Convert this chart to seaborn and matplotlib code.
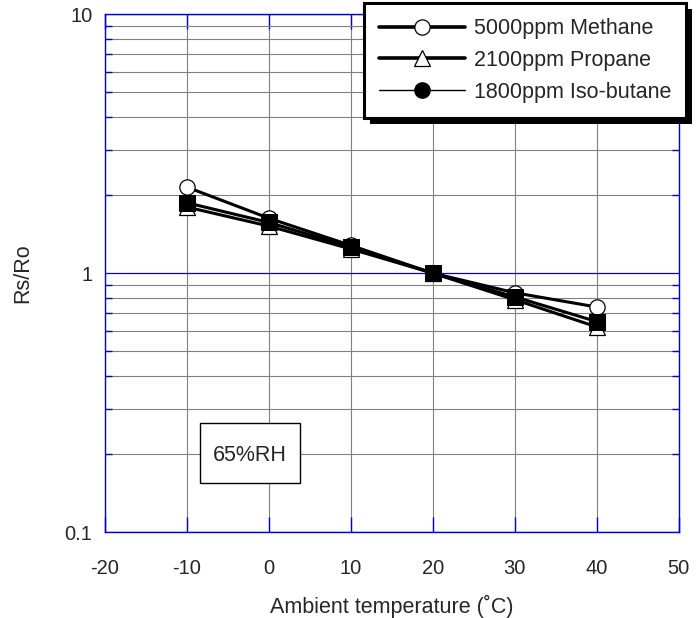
import numpy as np
import pandas as pd
import seaborn as sns
import matplotlib.pyplot as plt
from matplotlib.lines import Line2D
from matplotlib.patches import Rectangle
from matplotlib.ticker import FixedLocator, NullFormatter
from matplotlib.transforms import IdentityTransform

temps = [-10, 0, 10, 20, 30, 40]
methane = [2.15, 1.63, 1.28, 1.0, 0.84, 0.74]
propane = [1.80, 1.52, 1.24, 1.0, 0.79, 0.62]
isobutane = [1.87, 1.57, 1.26, 1.0, 0.81, 0.65]

labels = ["5000ppm Methane", "2100ppm Propane", "1800ppm Iso-butane"]
x_ticks = [-20, -10, 0, 10, 20, 30, 40, 50]
y_ticks = [0.1, 1, 10]
y_ticklabels = ["0.1", "1", "10"]

sns.set_style("white")
plt.rcParams['font.family'] = ['Liberation Sans', 'DejaVu Sans']

blue = "#0000c8"
grey = "#808080"

fig, ax = plt.subplots(figsize=(6.99, 6.18), dpi=100)
fig.subplots_adjust(left=0.150, right=0.971, bottom=0.139, top=0.977)

ax.set_yscale("log")
ax.set_xlim(-20, 50)
ax.set_ylim(0.1, 10)

# series
sns.lineplot(x=temps, y=methane, ax=ax, color="black", linewidth=2.2,
             marker="o", markersize=11, markerfacecolor="white",
             markeredgecolor="black", markeredgewidth=0.9, zorder=3)
sns.lineplot(x=temps, y=propane, ax=ax, color="black", linewidth=2.2,
             marker="^", markersize=11, markerfacecolor="white",
             markeredgecolor="black", markeredgewidth=0.9, zorder=3)
sns.lineplot(x=temps, y=isobutane, ax=ax, color="black", linewidth=2.2,
             marker="s", markersize=11, markerfacecolor="black",
             markeredgecolor="black", zorder=4)

# axes / grid
ax.xaxis.set_major_locator(FixedLocator(x_ticks))
ax.set_xticklabels([str(t) for t in x_ticks])
ax.yaxis.set_major_locator(FixedLocator(y_ticks))
ax.set_yticklabels(y_ticklabels)
minors = [m * 10.0 ** e for e in (-1, 0) for m in range(2, 10)]
ax.yaxis.set_minor_locator(FixedLocator(minors))
ax.yaxis.set_minor_formatter(NullFormatter())

ax.set_axisbelow(True)
ax.grid(which="major", axis="x", color=grey, linewidth=0.8)
ax.grid(which="minor", axis="y", color=grey, linewidth=0.8)
ax.grid(which="major", axis="y", color=blue, linewidth=0.9)

for s in ax.spines.values():
    s.set_color(blue)
    s.set_linewidth(1.0)

ax.tick_params(axis="x", which="major", direction="in", length=11, width=1,
               color=blue, top=True, bottom=True, labelsize=14.5, pad=19.5)
ax.tick_params(axis="y", which="major", direction="in", length=0,
               labelsize=14.5, pad=9, left=True, right=True)
ax.tick_params(axis="y", which="minor", direction="in", length=5, width=1,
               color=blue, left=True, right=True)

ax.set_xlabel("Ambient temperature (\u02daC)", fontsize=15.5)
ax.set_ylabel("Rs/Ro", fontsize=15.5)
ax.xaxis.set_label_coords(0.5, -0.121)
ax.yaxis.set_label_coords(-0.124, 0.5)

# 65%RH box
ax.add_patch(Rectangle((0.1655, 0.0946), 0.1742, 0.1158, transform=ax.transAxes,
                       facecolor="white", edgecolor="black", linewidth=1.0, zorder=5))
ax.text(0.253, 0.147, "65%RH", transform=ax.transAxes, ha="center", va="center",
        fontsize=15.5, zorder=6)

# legend
handles = [
    Line2D([], [], color="black", linewidth=2.6, marker="o", markersize=11,
           markerfacecolor="white", markeredgecolor="black", markeredgewidth=0.9),
    Line2D([], [], color="black", linewidth=2.6, marker="^", markersize=11,
           markerfacecolor="white", markeredgecolor="black", markeredgewidth=0.9),
    Line2D([], [], color="black", linewidth=1.0, marker="o", markersize=11,
           markerfacecolor="black", markeredgecolor="black"),
]
leg = ax.legend(handles, labels, loc="upper right",
                bbox_to_anchor=(686 / 699, 1 - 3 / 618), bbox_transform=fig.transFigure,
                borderaxespad=0, fontsize=15.5, handlelength=3.95, handletextpad=0.42,
                labelspacing=0.5, borderpad=0.7, fancybox=False, framealpha=1,
                edgecolor="black")
leg.get_frame().set_linewidth(2.2)
leg.set_zorder(10)

fig.canvas.draw()
bb = leg.get_window_extent()
shadow = Rectangle((bb.x0 + 6, bb.y0 - 6), bb.width, bb.height,
                   transform=IdentityTransform(), facecolor="black",
                   edgecolor="none", zorder=9, clip_on=False)
ax.add_artist(shadow)

fig.savefig("out.png", dpi=100)
